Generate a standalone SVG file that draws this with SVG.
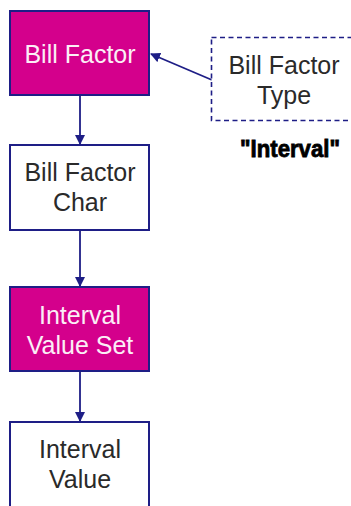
<svg xmlns="http://www.w3.org/2000/svg" width="351" height="506" viewBox="0 0 351 506">
<style>
.box{stroke:#1e1e86;stroke-width:2}
.mag{fill:#d4008c}
.wht{fill:#ffffff}
.dash{fill:#ffffff;stroke:#1e1e86;stroke-width:1.6;stroke-dasharray:5,3.5}
.t{font-family:"Liberation Sans",Arial,sans-serif;font-size:25px;text-anchor:middle}
.tw{fill:#fbeef6}
.td{fill:#2a2a2a}
.conn{stroke:#1e1e86;stroke-width:1.8;fill:none}
.lbl{font-family:"Liberation Sans Narrow","Liberation Sans",sans-serif;font-weight:bold;font-size:23px;fill:#000;stroke:#000;stroke-width:0.8}
</style>
<defs>
<marker id="ah" markerWidth="10" markerHeight="10" refX="9" refY="5" orient="auto" markerUnits="userSpaceOnUse">
<path d="M0,0 L10,5 L0,10 Z" fill="#1e1e86"/>
</marker>
</defs>
<rect width="351" height="506" fill="#ffffff"/>
<g id="connectors">
<line class="conn" x1="80" y1="96" x2="80" y2="144" marker-end="url(#ah)"/>
<line class="conn" x1="80" y1="231" x2="80" y2="286" marker-end="url(#ah)"/>
<line class="conn" x1="80" y1="372" x2="80" y2="421" marker-end="url(#ah)"/>
<line class="conn" x1="212" y1="80" x2="151" y2="54" marker-end="url(#ah)"/>
</g>
<g id="bill-factor">
<rect class="box mag" x="10" y="11" width="139" height="84"/>
<text class="t tw" x="80" y="63">Bill Factor</text>
</g>
<g id="bill-factor-type">
<rect class="dash" x="211.5" y="37.5" width="150" height="83"/>
<text class="t td" x="284" y="74">Bill Factor</text>
<text class="t td" x="284" y="104">Type</text>
</g>
<g id="interval-label">
<text class="lbl" x="240" y="157" textLength="100" lengthAdjust="spacingAndGlyphs">"Interval"</text>
</g>
<g id="bill-factor-char">
<rect class="box wht" x="10" y="145" width="139" height="85"/>
<text class="t td" x="80" y="181">Bill Factor</text>
<text class="t td" x="80" y="211">Char</text>
</g>
<g id="interval-value-set">
<rect class="box mag" x="10" y="287" width="139" height="84"/>
<text class="t tw" x="80" y="324">Interval</text>
<text class="t tw" x="80" y="354">Value Set</text>
</g>
<g id="interval-value">
<rect class="box wht" x="10" y="422" width="139" height="100"/>
<text class="t td" x="80" y="458">Interval</text>
<text class="t td" x="80" y="488">Value</text>
</g>
</svg>
